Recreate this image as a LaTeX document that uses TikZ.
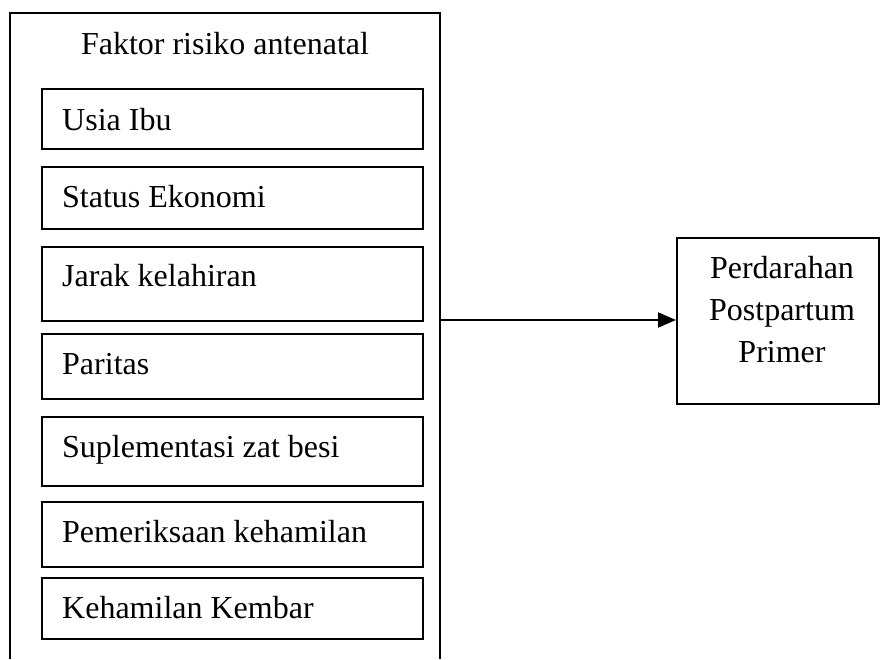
\documentclass[tikz,border=0pt]{standalone}
\usepackage{fontspec}
\setmainfont{Liberation Serif}
\usetikzlibrary{arrows.meta}
\begin{document}
\begin{tikzpicture}[x=1pt,y=-1pt,
  every node/.style={font=\fontsize{32}{42}\selectfont, inner sep=0pt},
  factor/.style={draw, line width=1.6pt, minimum width=381pt, anchor=north west},
  ftext/.style={anchor=base west},
  frame/.style={line width=2pt},
  link/.style={line width=2pt, -{Triangle[length=18pt,width=15pt]}}]
\useasboundingbox (0,0) rectangle (880,659);

% open frame around the antenatal risk factors
\coordinate (frameBL) at (10,659);
\coordinate (frameTL) at (10,13);
\coordinate (frameTR) at (440,13);
\coordinate (frameBR) at (440,659);
\draw[frame] (frameBL) -- (frameTL) -- (frameTR) -- (frameBR);
\node[anchor=base] (title) at (225,54) {Faktor risiko antenatal};

% risk factor boxes
\node[factor, minimum height=60pt] (usia) at (41,88) {};
\node[ftext] (usiaT) at (62,130) {Usia Ibu};
\node[factor, minimum height=62pt] (ekonomi) at (41,166) {};
\node[ftext] (ekonomiT) at (62,207) {Status Ekonomi};
\node[factor, minimum height=74pt] (jarak) at (41,246) {};
\node[ftext] (jarakT) at (62,286) {Jarak kelahiran};
\node[factor, minimum height=65pt] (paritas) at (41,333) {};
\node[ftext] (paritasT) at (62,374) {Paritas};
\node[factor, minimum height=69pt] (besi) at (41,416) {};
\node[ftext] (besiT) at (62,457) {Suplementasi zat besi};
\node[factor, minimum height=65pt] (anc) at (41,501) {};
\node[ftext] (ancT) at (62,542) {Pemeriksaan kehamilan};
\node[factor, minimum height=61pt] (kembar) at (41,577) {};
\node[ftext] (kembarT) at (62,618) {Kehamilan Kembar};

% outcome
\node[draw, line width=2pt, minimum width=202pt, minimum height=166pt, anchor=north west] (hpp) at (676,237) {};
\node[align=center, anchor=north] (hppT) at (782,256) {Perdarahan\\Postpartum\\Primer};

% connector from the frame to the outcome
\coordinate (src) at (440,320);
\draw[link] (src) -- (src -| hpp.west);
\end{tikzpicture}
\end{document}
